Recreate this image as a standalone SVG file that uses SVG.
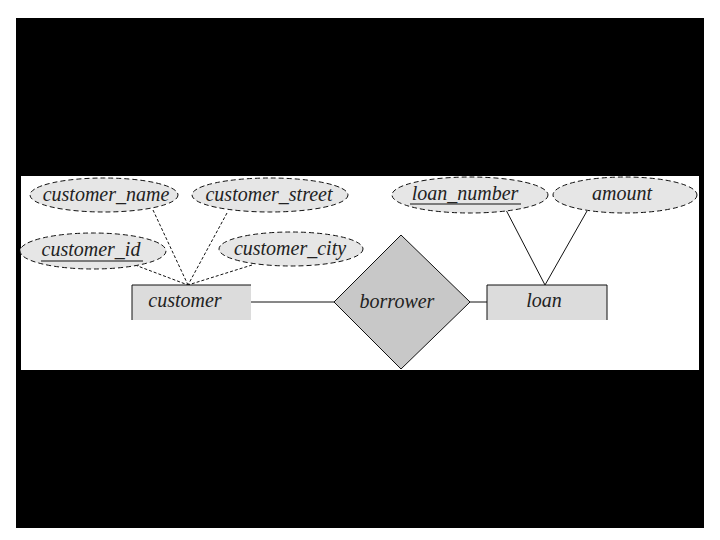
<svg xmlns="http://www.w3.org/2000/svg" width="720" height="540" viewBox="0 0 720 540">
<style>
.attr{fill:#e6e6e6;stroke:#111;stroke-width:1;stroke-dasharray:5,3}
.ent{fill:#dcdcdc;stroke:none}
.edge{fill:none;stroke:#111;stroke-width:1}
.dash{stroke-dasharray:3,2}
.ul{stroke:#111;stroke-width:1}
text{font-family:"Liberation Serif","DejaVu Serif",serif;font-style:italic;font-size:20px;fill:#222;text-anchor:middle}
</style>
<rect x="0" y="0" width="720" height="540" fill="#fff"/>
<rect x="16" y="18" width="688" height="510" fill="#000"/>
<rect x="21" y="176" width="678" height="194" fill="#fff"/>
<g id="connectors">
<line class="edge dash" x1="153" y1="210" x2="188" y2="285"/>
<line class="edge dash" x1="227" y1="213" x2="188" y2="285"/>
<line class="edge dash" x1="135" y1="265" x2="188" y2="285"/>
<line class="edge dash" x1="252" y1="265" x2="188" y2="285"/>
<line class="edge" x1="505" y1="208" x2="545" y2="285"/>
<line class="edge" x1="587" y1="211" x2="545" y2="285"/>
<line class="edge" x1="251" y1="302" x2="334" y2="302"/>
<line class="edge" x1="470" y1="302" x2="487" y2="302"/>
</g>
<g id="customer_name">
<ellipse class="attr" cx="104" cy="195" rx="74" ry="17"/>
<text x="106" y="201">customer_name</text>
</g>
<g id="customer_street">
<ellipse class="attr" cx="270" cy="195" rx="78" ry="17"/>
<text x="269" y="201">customer_street</text>
</g>
<g id="customer_id">
<ellipse class="attr" cx="93" cy="251" rx="73" ry="18"/>
<text x="91" y="256">customer_id</text>
<line class="ul" x1="41" y1="261" x2="143" y2="261"/>
</g>
<g id="customer_city">
<ellipse class="attr" cx="291" cy="249" rx="72" ry="17"/>
<text x="290" y="255">customer_city</text>
</g>
<g id="loan_number">
<ellipse class="attr" cx="470" cy="195" rx="78" ry="18"/>
<text x="465" y="200">loan_number</text>
<line class="ul" x1="410" y1="204" x2="521" y2="204"/>
</g>
<g id="amount">
<ellipse class="attr" cx="625" cy="195" rx="72" ry="18"/>
<text x="622" y="200">amount</text>
</g>
<g id="customer">
<rect class="ent" x="132" y="285" width="119" height="35"/>
<path class="edge" d="M132,320 V285 H251"/>
<text x="185" y="307">customer</text>
</g>
<g id="loan">
<rect class="ent" x="487" y="285" width="120" height="35"/>
<path class="edge" d="M487,320 V285 H607 V320"/>
<text x="544" y="307">loan</text>
</g>
<g id="borrower">
<polygon points="401,235 470,302 401,369 334,302" fill="#c8c8c8" stroke="#111" stroke-width="1"/>
<text x="397" y="308">borrower</text>
</g>
</svg>
